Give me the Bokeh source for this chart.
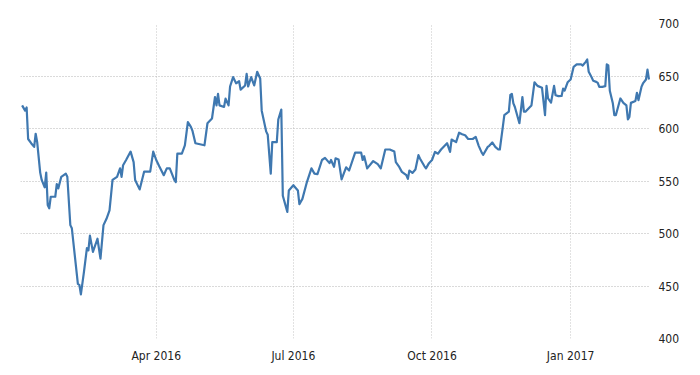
from datetime import datetime, timedelta

import pandas as pd
from bokeh.embed import file_html
from bokeh.models import ColumnDataSource, FixedTicker, Range1d
from bokeh.plotting import figure
from bokeh.resources import INLINE

# ---- data ----
dates = [
    "2016-01-03", "2016-01-05", "2016-01-06", "2016-01-07", "2016-01-09", "2016-01-11", "2016-01-12",
    "2016-01-13", "2016-01-15", "2016-01-16", "2016-01-18", "2016-01-19", "2016-01-20", "2016-01-21",
    "2016-01-22", "2016-01-25", "2016-01-26", "2016-01-27", "2016-01-29", "2016-02-01", "2016-02-02",
    "2016-02-04", "2016-02-05", "2016-02-09", "2016-02-10", "2016-02-11", "2016-02-13", "2016-02-15",
    "2016-02-16", "2016-02-17", "2016-02-19", "2016-02-22", "2016-02-24", "2016-02-26", "2016-02-28",
    "2016-03-01", "2016-03-03", "2016-03-06", "2016-03-08", "2016-03-09", "2016-03-10", "2016-03-12",
    "2016-03-15", "2016-03-17", "2016-03-18", "2016-03-21", "2016-03-24", "2016-03-28", "2016-03-30",
    "2016-04-01", "2016-04-03", "2016-04-06", "2016-04-08", "2016-04-10", "2016-04-13", "2016-04-14",
    "2016-04-15", "2016-04-18", "2016-04-20", "2016-04-22", "2016-04-24", "2016-04-25", "2016-04-27",
    "2016-05-03", "2016-05-05", "2016-05-08", "2016-05-10", "2016-05-11", "2016-05-12", "2016-05-13",
    "2016-05-16", "2016-05-17", "2016-05-19", "2016-05-20", "2016-05-22", "2016-05-24", "2016-05-26",
    "2016-05-27", "2016-05-30", "2016-05-31", "2016-06-01", "2016-06-03", "2016-06-05", "2016-06-07",
    "2016-06-09", "2016-06-10", "2016-06-13", "2016-06-14", "2016-06-16", "2016-06-17", "2016-06-20",
    "2016-06-21", "2016-06-23", "2016-06-24", "2016-06-27", "2016-06-28", "2016-07-01", "2016-07-04",
    "2016-07-05", "2016-07-07", "2016-07-10", "2016-07-13", "2016-07-15", "2016-07-17", "2016-07-20",
    "2016-07-22", "2016-07-25", "2016-07-26", "2016-07-28", "2016-07-29", "2016-07-31", "2016-08-02",
    "2016-08-05", "2016-08-07", "2016-08-11", "2016-08-15", "2016-08-16", "2016-08-17", "2016-08-19",
    "2016-08-23", "2016-08-26", "2016-08-28", "2016-08-31", "2016-09-03", "2016-09-06", "2016-09-07",
    "2016-09-09", "2016-09-11", "2016-09-14", "2016-09-15", "2016-09-16", "2016-09-18", "2016-09-20",
    "2016-09-22", "2016-09-23", "2016-09-26", "2016-09-27", "2016-09-29", "2016-10-01", "2016-10-03",
    "2016-10-05", "2016-10-07", "2016-10-11", "2016-10-13", "2016-10-14", "2016-10-17", "2016-10-19",
    "2016-10-21", "2016-10-23", "2016-10-25", "2016-10-28", "2016-10-30", "2016-11-01", "2016-11-03",
    "2016-11-04", "2016-11-07", "2016-11-08", "2016-11-10", "2016-11-12", "2016-11-14", "2016-11-15",
    "2016-11-17", "2016-11-18", "2016-11-21", "2016-11-22", "2016-11-23", "2016-11-24", "2016-11-25",
    "2016-11-28", "2016-11-30", "2016-12-01", "2016-12-02", "2016-12-05", "2016-12-06", "2016-12-08",
    "2016-12-10", "2016-12-13", "2016-12-15", "2016-12-16", "2016-12-17", "2016-12-19", "2016-12-21",
    "2016-12-22", "2016-12-24", "2016-12-26", "2016-12-27", "2016-12-28", "2016-12-30", "2017-01-01",
    "2017-01-03", "2017-01-05", "2017-01-08", "2017-01-09", "2017-01-11", "2017-01-12", "2017-01-13",
    "2017-01-15", "2017-01-16", "2017-01-18", "2017-01-19", "2017-01-20", "2017-01-22", "2017-01-24",
    "2017-01-25", "2017-01-26", "2017-01-27", "2017-01-29", "2017-01-30", "2017-01-31", "2017-02-03",
    "2017-02-05", "2017-02-07", "2017-02-08", "2017-02-09", "2017-02-10", "2017-02-13", "2017-02-14",
    "2017-02-15", "2017-02-17", "2017-02-18", "2017-02-20", "2017-02-21", "2017-02-22",
]
values = [
    622, 617, 620, 590, 586, 582.5, 595,
    587, 558, 551, 544, 558, 527, 524,
    535, 535, 547, 543, 554, 557, 554,
    508, 505, 452, 451, 442, 463, 486,
    484, 498, 482.5, 495, 476, 508, 514,
    522, 551, 554, 562, 554, 565, 570,
    578, 568, 551, 542, 559, 559, 578,
    570, 564, 555.5, 562, 562, 551, 549,
    576, 576, 584, 606, 601.5, 598, 586,
    584, 605, 609.5, 630, 622, 633, 622,
    620.5, 628.5, 622, 640, 649, 643, 645,
    637, 641, 652, 640, 649, 641, 654,
    647.6, 617, 597, 594, 557, 587, 587,
    608.6, 618, 536, 520.6, 541, 546, 541,
    528, 533, 549, 562, 557, 556.5, 570,
    572, 567, 570, 563.5, 571.6, 570.5, 551.5,
    563, 560, 577, 577, 570, 573.6, 562,
    569, 566, 562, 580, 580, 578, 568,
    564, 558.7, 555.5, 552, 560, 557.7, 561,
    574.6, 571.5, 564, 562, 567, 570, 577.7,
    576, 580, 586, 577.7, 589.5, 587, 596,
    594.6, 593.6, 590, 590, 592, 583.5, 577,
    575, 582.5, 583.5, 586.7, 582.5, 580, 580,
    601.5, 612.7, 616, 632, 633, 624, 620.5,
    605, 630, 616, 616, 620.5, 622, 644,
    640.6, 638.7, 612.7, 640.6, 628.6, 624.7, 640.6,
    631.7, 630.8, 631, 638, 636, 644, 646.7,
    658.7, 661, 661, 660, 663.5, 665.7, 654,
    648.6, 645.4, 644.4, 643.4, 639.6, 639.6, 640.3,
    661, 660, 636, 624, 612.7, 612.7, 628.6,
    624.4, 622, 608.6, 611, 624.4, 626.3, 634,
    627, 639.6, 642.9, 646.7, 656, 646.7,
]

tick_dates = ["2016-04-01", "2016-07-01", "2016-10-01", "2017-01-01"]
tick_labels = ["Apr 2016", "Jul 2016", "Oct 2016", "Jan 2017"]
y_ticks = [400, 450, 500, 550, 600, 650, 700]

# ---- figure ----
src = ColumnDataSource(dict(x=pd.to_datetime(dates), y=values))

x_start = datetime(2016, 1, 1) + timedelta(days=0.93)
x_end = datetime(2016, 1, 1) + timedelta(days=419.0)

p = figure(
    width=700, height=375,
    x_axis_type="datetime", y_axis_location="right",
    x_range=Range1d(x_start, x_end), y_range=Range1d(400, 700),
    output_backend="svg", toolbar_location=None,
    min_border_left=20, min_border_right=50, min_border_top=23, min_border_bottom=37,
)
p.outline_line_color = None
p.background_fill_color = "white"
p.border_fill_color = "white"

p.line("x", "y", source=src, line_color="#3f78b0", line_width=2.2, line_join="round")

tick_ms = [pd.Timestamp(d).value / 1e6 for d in tick_dates]
p.xaxis.ticker = FixedTicker(ticks=tick_ms)
p.xaxis.major_label_overrides = {t: lab for t, lab in zip(tick_ms, tick_labels)}
p.yaxis.ticker = FixedTicker(ticks=y_ticks)

for ax in (p.xaxis[0], p.yaxis[0]):
    ax.axis_line_color = None
    ax.major_tick_line_color = None
    ax.minor_tick_line_color = None
    ax.major_label_text_font = "DejaVu Sans Condensed"
    ax.major_label_text_color = "#222222"
p.xaxis.major_label_text_font_size = "12px"
p.yaxis.major_label_text_font_size = "12px"
p.xaxis.major_label_standoff = 4
p.yaxis.major_label_standoff = 2

p.xgrid.grid_line_color = "#c4c4c4"
p.xgrid.grid_line_dash = "1 2"
p.ygrid.grid_line_color = "#b4b4b4"
p.ygrid.grid_line_dash = "1 2"

open("out.html", "w").write(file_html(p, INLINE))
